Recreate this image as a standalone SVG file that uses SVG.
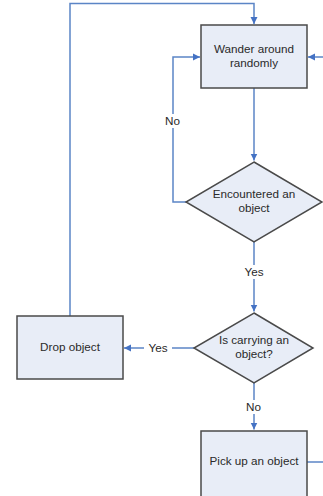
<svg xmlns="http://www.w3.org/2000/svg" width="323" height="496" viewBox="0 0 323 496">
<style>
.n{fill:#e8edf7;stroke:#4a4a4a;stroke-width:1.5}
.c{fill:none;stroke:#5b85c6;stroke-width:1.5}
.t{font-family:"Liberation Sans",Arial,sans-serif;font-size:11.7px;fill:#2a2a2a;text-anchor:middle}
.l{font-family:"Liberation Sans",Arial,sans-serif;font-size:11.7px;fill:#2a2a2a;text-anchor:middle}
</style>
<defs>
<marker id="a" markerWidth="8" markerHeight="8" refX="7" refY="4" orient="auto" markerUnits="userSpaceOnUse">
<path d="M0,0.5 L7,4 L0,7.5 Z" fill="#4472c4"/>
</marker>
</defs>
<rect width="323" height="496" fill="#fff"/>
<g id="connectors">
<path class="c" d="M70,316 V3.5 H254 V24" marker-end="url(#a)"/>
<path class="c" d="M323,57 H308" marker-end="url(#a)"/>
<path class="c" d="M186,202 H173 V57 H200" marker-end="url(#a)"/>
<path class="c" d="M254,88 V160.5" marker-end="url(#a)"/>
<path class="c" d="M254,242 V311.5" marker-end="url(#a)"/>
<path class="c" d="M194,348 H124" marker-end="url(#a)"/>
<path class="c" d="M254,383 V429.5" marker-end="url(#a)"/>
<path class="c" d="M307,462 H323"/>
<rect x="162" y="114" width="21" height="14" fill="#fff"/>
<text class="l" x="172.5" y="125">No</text>
<rect x="240" y="265" width="28" height="14" fill="#fff"/>
<text class="l" x="254" y="276">Yes</text>
<rect x="144" y="341" width="28" height="14" fill="#fff"/>
<text class="l" x="158" y="352">Yes</text>
<rect x="243" y="400" width="21" height="14" fill="#fff"/>
<text class="l" x="253.5" y="411">No</text>
</g>
<g id="wander">
<rect class="n" x="201" y="25" width="106" height="63"/>
<text class="t" x="254" y="53">Wander around</text>
<text class="t" x="254" y="67">randomly</text>
</g>
<g id="encountered">
<path class="n" d="M254,162 L322,202 L254,242 L186,202 Z"/>
<text class="t" x="254" y="198">Encountered an</text>
<text class="t" x="254" y="212">object</text>
</g>
<g id="carrying">
<path class="n" d="M254,313 L313,348 L254,383 L194,348 Z"/>
<text class="t" x="254" y="344">Is carrying an</text>
<text class="t" x="254" y="358">object?</text>
</g>
<g id="drop">
<rect class="n" x="17" y="316" width="106" height="63"/>
<text class="t" x="70" y="351">Drop object</text>
</g>
<g id="pickup">
<rect class="n" x="201" y="431" width="106" height="68"/>
<text class="t" x="254" y="465">Pick up an object</text>
</g>
</svg>
